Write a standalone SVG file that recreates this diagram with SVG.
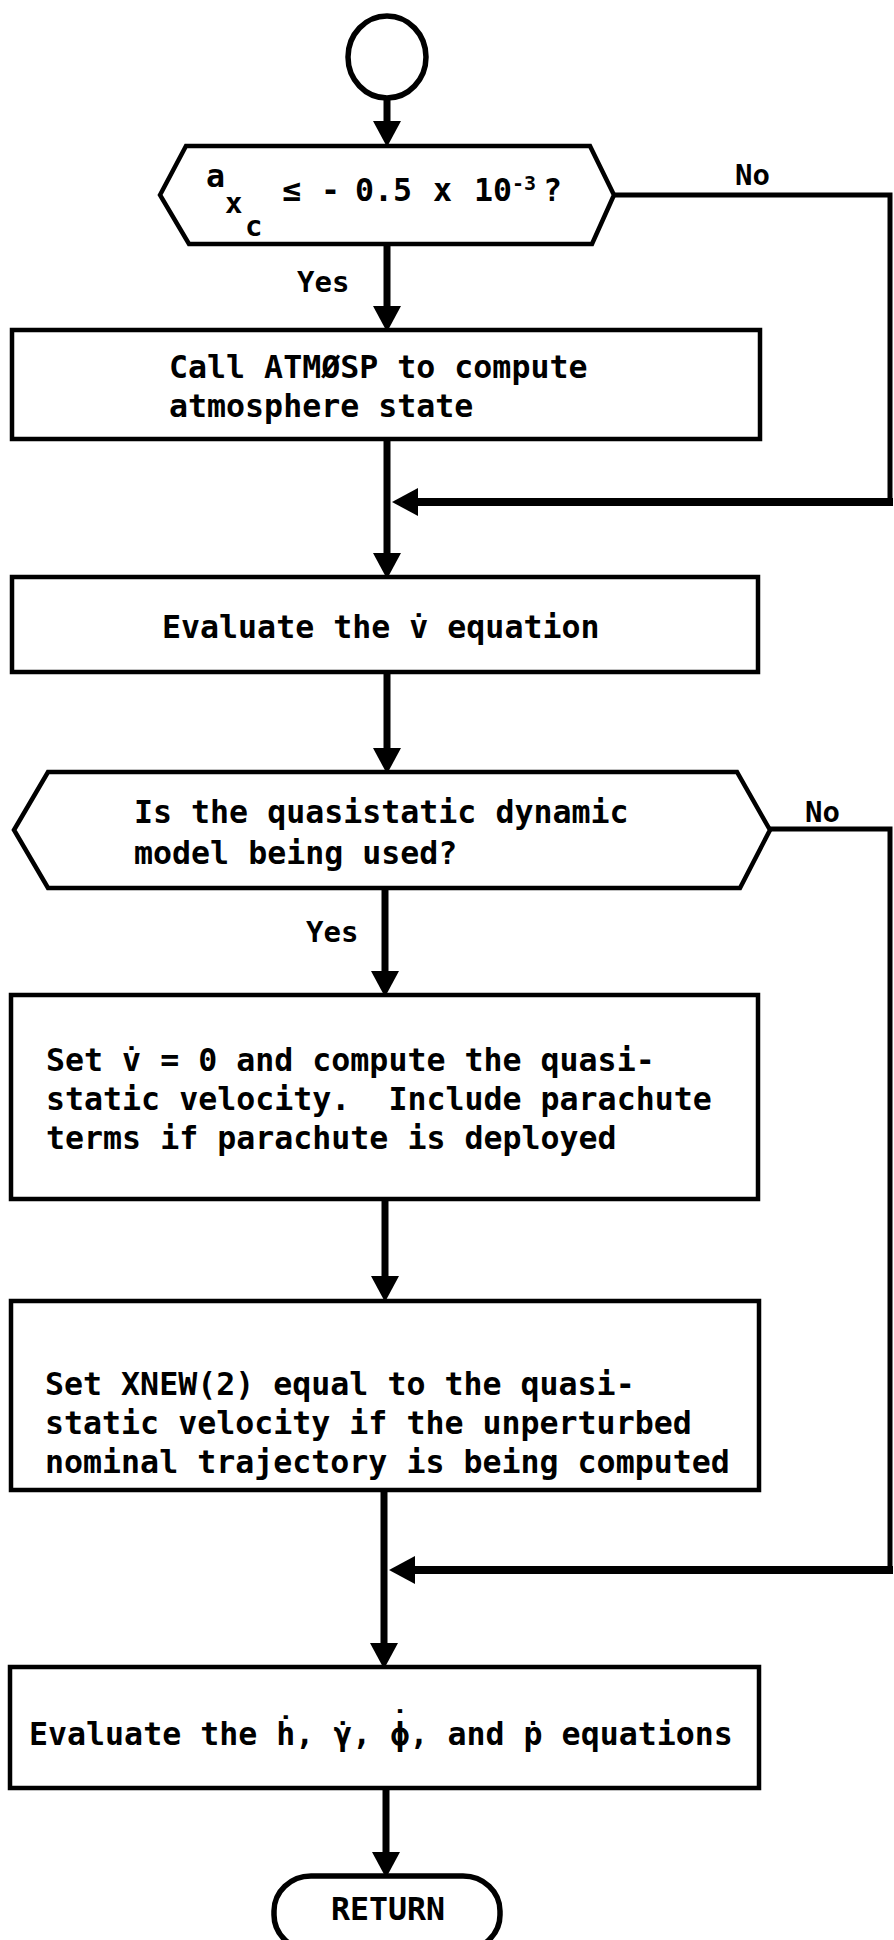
<svg xmlns="http://www.w3.org/2000/svg" width="894" height="1940" viewBox="0 0 894 1940">
  <defs>
    <marker id="head" viewBox="0 0 26 28" refX="4" refY="14" markerWidth="26" markerHeight="28" markerUnits="userSpaceOnUse" orient="auto">
      <path d="M0,0 L26,14 L0,28 z" fill="#000"/>
    </marker>
    <style>
      .shape { fill: #fff; stroke: #000; stroke-width: 4.5; stroke-linejoin: miter; }
      .term { fill: #fff; stroke: #000; stroke-width: 5.5; }
      .flow { fill: none; stroke: #000; stroke-width: 7; }
      .side { fill: none; stroke: #000; stroke-width: 5; stroke-linecap: square; }
      .back { fill: none; stroke: #000; stroke-width: 8; }
      text { font-family: "DejaVu Sans Mono", "Liberation Mono", monospace; font-size: 31.6px; font-weight: bold; fill: #000; white-space: pre; }
      .lbl { font-size: 29px; }
      .sub { font-size: 29px; }
      .sup { font-size: 20px; }
    </style>
  </defs>

  <!-- connectors -->
  <g id="connectors">
    <path class="flow" d="M387,99 V125" marker-end="url(#head)"/>
    <path class="flow" d="M387,244 V310" marker-end="url(#head)"/>
    <path class="flow" d="M387,439 V557" marker-end="url(#head)"/>
    <path class="flow" d="M387,672 V752" marker-end="url(#head)"/>
    <path class="flow" d="M385,888 V975" marker-end="url(#head)"/>
    <path class="flow" d="M385,1199 V1280" marker-end="url(#head)"/>
    <path class="flow" d="M384,1490 V1647" marker-end="url(#head)"/>
    <path class="flow" d="M386,1788 V1856" marker-end="url(#head)"/>
    <!-- "No" bypass of the atmosphere call -->
    <path class="side" d="M614,195 H890 V502"/>
    <path class="back" d="M893,502 H414" marker-end="url(#head)"/>
    <!-- "No" bypass of the quasistatic branch -->
    <path class="side" d="M770,829 H890 V1570"/>
    <path class="back" d="M893,1570 H411" marker-end="url(#head)"/>
    <text class="lbl" x="735" y="185">No</text>
    <text class="lbl" x="297" y="292">Yes</text>
    <text class="lbl" x="805" y="822">No</text>
    <text class="lbl" x="306" y="942">Yes</text>
  </g>

  <!-- entry connector -->
  <g id="start">
    <ellipse class="term" cx="387" cy="57" rx="39" ry="41"/>
  </g>

  <!-- acceleration test -->
  <g id="decision-accel">
    <polygon class="shape" points="160,195 186,146 590,146 614,195 592,244 189,244"/>
    <text x="206" y="187">a</text>
    <text class="sub" x="225" y="213">x</text>
    <text class="sub" x="245" y="236">c</text>
    <text y="201"><tspan x="282">≤</tspan><tspan x="321">-</tspan><tspan x="355">0.5</tspan><tspan x="433">x</tspan><tspan x="474">10</tspan></text>
    <text class="sup" x="512" y="190">-3</text>
    <text x="543" y="201">?</text>
  </g>

  <g id="box-atmosphere">
    <rect class="shape" x="12" y="330" width="748" height="109"/>
    <text x="169" y="378">Call ATMØSP to compute</text>
    <text x="169" y="417">atmosphere state</text>
  </g>

  <g id="box-vdot">
    <rect class="shape" x="12" y="577" width="746" height="95"/>
    <text x="162" y="638">Evaluate the v̇ equation</text>
  </g>

  <!-- dynamic model test -->
  <g id="decision-model">
    <polygon class="shape" points="14,830 48,772 737,772 770,830 740,888 48,888"/>
    <text x="134" y="823">Is the quasistatic dynamic</text>
    <text x="134" y="864">model being used?</text>
  </g>

  <g id="box-quasistatic">
    <rect class="shape" x="11" y="995" width="747" height="204"/>
    <text x="46" y="1071">Set v̇ = 0 and compute the quasi-</text>
    <text x="46" y="1110">static velocity.  Include parachute</text>
    <text x="46" y="1149">terms if parachute is deployed</text>
  </g>

  <g id="box-xnew">
    <rect class="shape" x="11" y="1301" width="748" height="189"/>
    <text x="45" y="1395">Set XNEW(2) equal to the quasi-</text>
    <text x="45" y="1434">static velocity if the unperturbed</text>
    <text x="45" y="1473">nominal trajectory is being computed</text>
  </g>

  <g id="box-rates">
    <rect class="shape" x="10" y="1667" width="749" height="121"/>
    <!-- rate dots over gamma and phi set back one cell onto their letters -->
    <text x="29" y="1745">Evaluate the ḣ, γ<tspan dx="-19.03" dy="1">˙</tspan><tspan dy="-1">, ϕ</tspan><tspan dx="-19.03" dy="-11">˙</tspan><tspan dy="11">, and ṗ equations</tspan></text>
  </g>

  <g id="end">
    <rect class="term" x="274" y="1876" width="226" height="74" rx="37" ry="35"/>
    <text x="331" y="1920">RETURN</text>
  </g>
</svg>
